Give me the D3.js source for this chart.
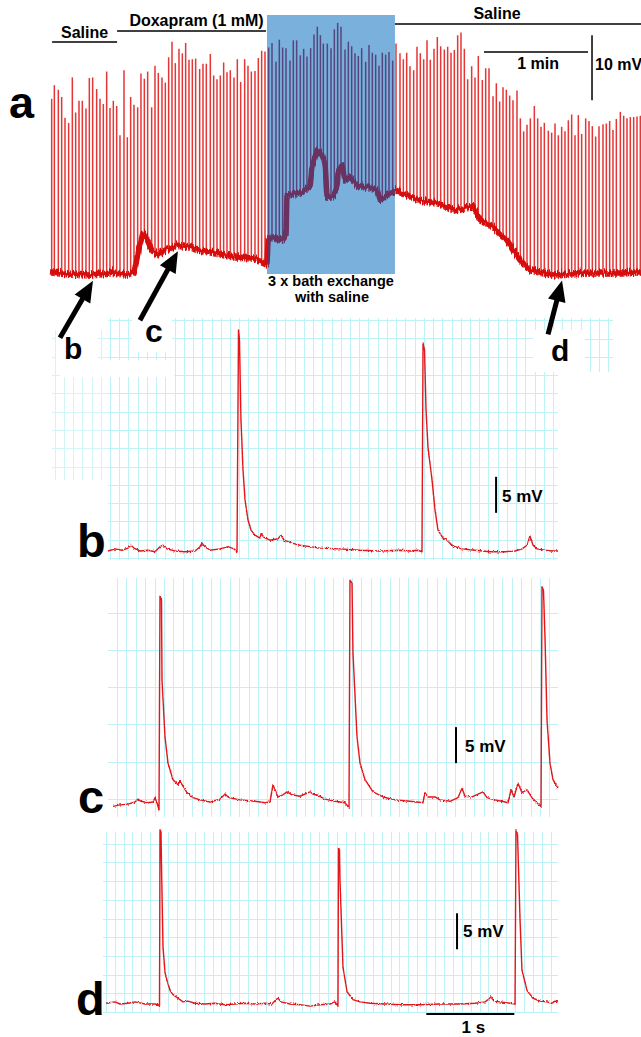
<!DOCTYPE html>
<html>
<head>
<meta charset="utf-8">
<script src="https://cdn.jsdelivr.net/npm/d3@7"></script>
<style>
  html, body { margin: 0; padding: 0; background: #fff; }
  svg { display: block; }
  text { font-family: "Liberation Sans", Arial, sans-serif; font-weight: bold; fill: #000; }
</style>
</head>
<body>
<svg id="fig" width="641" height="1037"></svg>
<script>
// ---------- Panel a: long recording (time in s, membrane potential in mV relative to rest) ----------
// Peak of each spike
const spikesA = [
  [0.96,27.1],[2.50,29.2],[4.80,28.5],[6.73,27.4],[8.65,24.2],[10.76,23.4],[12.88,30.4],[14.80,25.0],[16.73,26.8],[18.65,26.8],
  [20.76,25.6],[22.69,30.3],[24.61,30.4],[26.92,28.6],[28.84,27.1],[30.76,26.3],[32.69,31.3],[34.61,25.7],[36.53,26.8],[38.46,26.0],
  [40.38,21.5],[42.69,31.5],[44.61,21.2],[46.53,27.4],[48.45,26.2],[50.57,25.8],[52.49,31.0],[54.42,30.2],[56.34,31.3],[58.65,25.8],
  [60.57,32.2],[62.49,31.1],[64.61,30.4],[66.53,29.6],[68.45,33.5],[70.38,35.9],[72.30,32.6],[74.42,34.8],[76.34,34.1],[78.26,35.7],
  [80.19,33.1],[82.11,33.2],[84.03,33.3],[86.34,31.7],[88.26,32.5],[90.18,32.5],[92.49,34.0],[94.42,30.7],[96.34,30.1],[98.26,30.7],
  [100.18,32.7],[102.11,31.2],[104.03,31.5],[106.14,30.4],[108.07,33.2],[109.99,29.7],[112.30,33.2],[114.22,32.2],[116.15,31.3],[118.26,31.4],
  [120.18,33.4],[122.11,34.5],[124.03,34.4],[126.15,35.0],[128.07,35.7],[130.37,32.8],[132.30,36.2],[134.22,35.0],[136.15,34.9],[138.45,33.0],
  [140.37,36.1],[142.30,36.1],[144.41,33.8],[146.34,34.8],[148.26,33.6],[150.37,34.9],[152.30,37.0],[154.22,38.2],[156.00,36.9],[157.69,35.6],
  [160.00,35.6],[162.12,34.9],[164.04,37.8],[165.96,38.8],[167.88,38.2],[170.19,34.7],[172.12,35.9],[174.04,35.2],[175.96,34.1],[177.88,33.7],
  [179.81,34.9],[182.12,32.8],[184.04,35.4],[185.96,34.2],[187.88,33.9],[189.81,32.2],[191.73,34.2],[193.65,33.9],[195.58,34.3],[197.69,33.0],
  [199.61,35.6],[201.92,34.1],[203.85,33.2],[205.77,34.2],[207.69,32.1],[209.81,31.5],[211.73,35.1],[213.65,34.1],[215.58,33.2],[217.50,36.1],
  [219.42,33.1],[221.54,34.8],[223.46,36.6],[225.38,35.2],[227.50,34.7],[229.42,35.1],[231.35,34.2],[233.27,34.6],[235.19,36.9],[237.11,37.3],
  [239.04,34.8],[240.96,30.1],[243.27,32.1],[245.19,30.4],[247.11,33.7],[249.42,30.0],[251.35,31.8],[253.27,31.8],[255.58,27.5],[257.50,29.5],
  [259.42,26.7],[261.35,28.9],[263.27,28.5],[265.19,27.6],[267.11,26.9],[269.42,28.4],[271.35,24.1],[273.27,22.1],[275.19,23.1],[277.11,24.1],
  [279.42,26.0],[281.35,24.1],[283.27,22.8],[285.19,23.4],[287.50,22.2],[289.42,21.9],[291.35,23.3],[293.27,21.5],[295.19,22.8],[297.11,22.1],
  [299.04,23.8],[300.96,24.7],[302.88,21.5],[304.80,24.6],[306.73,21.7],[309.04,24.1],[310.96,23.7],[312.88,22.9],[314.80,21.3],[316.73,22.9],
  [319.04,23.2],[320.96,23.3],[322.88,23.7],[324.80,22.3],[326.73,24.0],[329.04,25.1],[330.96,24.5],[332.88,24.1],[334.80,24.3],[336.73,24.3],
  [338.65,24.4],[340.57,24.5]
];
// Inter-spike membrane potential
const restA = [
  [0,0.5],[11.5,0.15],[23.1,0],[34.6,0.3],[45.0,0.15],[48.5,0.5],[51.9,4.6],[53.7,6.6],[56.0,5.4],[58.8,3.8],
  [62.3,3.1],[66.3,3.8],[73.3,4.6],[80.8,4.3],[86.5,3.8],[95.2,3.4],[105.6,2.8],[117.1,2.6],[124.0,1.8],[125.2,1.7],
  [125.8,5.4],[126.9,5.8],[134.4,5.4],[136.2,6.5],[136.7,12.3],[144.2,12.6],[150.0,13.5],[151.1,16.5],[154.0,19.2],[156.9,18.5],
  [158.7,17.2],[159.8,12.0],[163.3,12.0],[165.6,13.5],[166.2,15.8],[168.5,16.9],[170.2,14.6],[173.1,15.1],[177.1,13.8],[182.9,13.5],
  [188.6,13.1],[190.4,11.5],[194.4,12.3],[199.0,13.1],[213.5,11.5],[223.3,11.1],[232.5,10.0],[244.0,10.5],[248.1,8.5],[255.6,7.4],
  [263.6,5.4],[271.1,2.3],[276.9,0.8],[290.2,0],[309.8,0.3],[328.8,0.3],[340.9,0.5]
];
// Solution periods (s)
const conditionsA = [
  { label: "Saline",          t0: 1.2,   t1: 38.7 },
  { label: "Doxapram (1 mM)", t0: 38.7,  t1: 124.6 },
  { label: "Saline",          t0: 199.0, t1: 341.0 }
];
const washWindow = [125.2, 199.0];          // bath exchange, s
const washLabel = ["3 x bath exchange", "with saline"];
const arrowTimes = [{ id: "b", t: 24.8 }, { id: "c", t: 73.8 }, { id: "d", t: 295.4 }];

// ---------- Panels b, c, d: expanded traces (time in s, mV relative to rest) ----------
const traceB = [
  [0,0],[0.080,0.3],[0.159,0.1],[0.227,0.4],[0.261,0.8],[0.295,0.4],[0.364,0],[0.455,0.1],[0.534,-0.1],[0.591,0.6],
  [0.625,0.8],[0.670,0.3],[0.761,0],[0.875,-0.1],[0.989,0],[1.045,0.6],[1.068,1.1],[1.102,0.6],[1.159,0.1],[1.273,0.3],
  [1.364,0.6],[1.432,0.3],[1.466,-0.1],[1.483,30.7],[1.494,29.3],[1.511,18.2],[1.534,11.3],[1.557,7.1],[1.591,4.3],[1.625,2.9],
  [1.670,2.2],[1.727,1.8],[1.739,2.4],[1.773,1.9],[1.841,1.5],[1.932,1.7],[1.966,2.2],[2.000,1.5],[2.091,1.1],[2.182,0.8],
  [2.295,0.6],[2.409,0.4],[2.636,0.3],[2.864,0.1],[3.091,0],[3.318,0.1],[3.432,0],[3.523,0.1],[3.568,-0.1],[3.580,28.9],
  [3.597,27.9],[3.614,19.6],[3.636,14.4],[3.682,9.9],[3.716,5.7],[3.750,2.9],[3.807,1.8],[3.852,1.5],[3.920,0.7],[4.023,0.3],
  [4.170,0.1],[4.341,-0.1],[4.511,-0.1],[4.625,0],[4.705,0.3],[4.761,0.8],[4.795,2.1],[4.830,0.8],[4.875,0.3],[4.966,0.1],
  [5.045,0],[5.114,0]
];
const traceC = [
  [0,-0.6],[0.080,-0.4],[0.170,-0.3],[0.250,0],[0.284,0.4],[0.318,0.1],[0.398,-0.1],[0.455,0],[0.477,0.6],[0.500,-0.1],
  [0.523,-1.1],[0.534,28.6],[0.551,28.1],[0.557,16.9],[0.591,9.0],[0.625,5.4],[0.682,3.1],[0.739,2.4],[0.761,2.9],[0.795,2.2],
  [0.841,1.3],[0.909,0.6],[0.989,0.3],[1.102,0],[1.216,0.4],[1.273,1.1],[1.318,0.6],[1.443,0.3],[1.614,0.1],[1.727,-0.1],
  [1.784,0],[1.818,2.4],[1.852,1.4],[1.875,0.7],[1.932,1.0],[1.977,1.4],[2.034,1.0],[2.125,0.8],[2.239,1.4],[2.284,1.0],
  [2.318,1.0],[2.409,0.4],[2.523,0.1],[2.636,-0.1],[2.682,-0.8],[2.693,30.8],[2.716,30.4],[2.727,20.7],[2.773,9.0],[2.807,5.4],
  [2.864,3.1],[2.955,1.4],[3.068,0.7],[3.205,0.3],[3.375,0.1],[3.523,-0.1],[3.545,1.3],[3.580,0.7],[3.659,0.7],[3.716,0.3],
  [3.830,0.1],[3.920,0.6],[3.966,1.9],[4.000,0.8],[4.080,0.7],[4.205,1.4],[4.250,0.6],[4.341,0.3],[4.455,0],[4.489,-0.1],
  [4.523,1.7],[4.557,0.7],[4.602,2.6],[4.648,1.3],[4.705,1.7],[4.761,0.6],[4.841,-0.4],[4.864,-0.6],[4.875,29.9],[4.892,29.4],
  [4.909,22.9],[4.932,11.4],[4.966,5.4],[5.000,3.1],[5.057,1.9]
];
const traceD = [
  [0,0.1],[0.102,0.3],[0.159,0],[0.250,0.1],[0.330,0.3],[0.443,0],[0.557,0],[0.591,-0.1],[0.608,-0.3],[0.614,24.2],
  [0.625,23.9],[0.631,19.0],[0.648,7.9],[0.670,4.4],[0.693,3.3],[0.727,1.9],[0.761,1.3],[0.818,0.8],[0.875,0.3],[0.932,0.4],
  [1.011,0.1],[1.125,0],[1.239,0.1],[1.352,-0.1],[1.466,0],[1.580,0.1],[1.693,0],[1.807,0.1],[1.886,0],[1.932,0.6],
  [1.955,0.8],[1.989,0.3],[2.091,0],[2.205,-0.1],[2.318,-0.3],[2.432,-0.1],[2.545,0],[2.602,0.3],[2.636,-0.3],[2.642,21.7],
  [2.653,21.4],[2.659,17.2],[2.693,5.1],[2.739,1.7],[2.807,0.6],[2.886,0.3],[3.000,0.1],[3.170,0],[3.341,-0.1],[3.568,-0.1],
  [3.795,0],[4.023,0],[4.193,0.1],[4.307,0.3],[4.352,0.7],[4.375,1.0],[4.409,0.4],[4.477,0.3],[4.591,0.1],[4.648,0],
  [4.659,24.2],[4.676,23.6],[4.705,11.7],[4.727,4.7],[4.784,1.9],[4.852,0.8],[4.932,0.4],[5.011,0.3],[5.068,0.1],[5.102,0.4],
  [5.136,0.3]
];
// Scale bars
const scaleA = { mV: 10, mVFrom: 26.9, mVAt: 312.7, sec: 60, secFrom: 250.4 };
const scaleBarsSmall = [
  { panel: "b", mV: 5, t: 4.41,  from: 5.3 },
  { panel: "c", mV: 5, t: 3.898, from: 5.4 },
  { panel: "d", mV: 5, t: 3.989, from: 7.6 }
];
const timeBarD = { sec: 1, from: 3.64 };

// ---------- drawing ----------
const svg = d3.select("#fig");
const RED = "#e3161c";
const GRID = "#bdf3f6";

const defs = svg.append("defs");
// recording noise: vertical-only jitter of the drawn trace
function jitterFilter(id, freq, scale) {
  const f = defs.append("filter").attr("id", id).attr("filterUnits", "userSpaceOnUse")
    .attr("x", 0).attr("y", 0).attr("width", 641).attr("height", 1037);
  f.append("feTurbulence").attr("type", "fractalNoise").attr("baseFrequency", freq)
    .attr("numOctaves", 2).attr("seed", 7).attr("result", "noise");
  f.append("feColorMatrix").attr("in", "noise").attr("type", "matrix")
    .attr("values", "0 0 0 0 0.5  0 1 0 0 0  0 0 0 0 0  0 0 0 0 1").attr("result", "vOnly");
  f.append("feDisplacementMap").attr("in", "SourceGraphic").attr("in2", "vOnly")
    .attr("scale", scale).attr("xChannelSelector", "R").attr("yChannelSelector", "G");
}
jitterFilter("noiseA", "0.9 0.05", 9);
jitterFilter("noiseS", "0.6 0.6", 3.2);

// Panel a scales: 1 min = 104 px, 10 mV = 65 px
const xA = d3.scaleLinear().domain([0, 60]).range([50, 154]);
const yA = d3.scaleLinear().domain([0, 10]).range([275, 210]);
const restAt = d3.scaleLinear().domain(restA.map(d => d[0])).range(restA.map(d => d[1])).clamp(true);

// Panel b-d scales: 1 s = 88 px, 5 mV = 36 px
const panels = {
  b: { data: traceB, x: d3.scaleLinear().domain([0, 1]).range([108, 196]), y: d3.scaleLinear().domain([0, 5]).range([551, 515]) },
  c: { data: traceC, x: d3.scaleLinear().domain([0, 1]).range([113, 201]), y: d3.scaleLinear().domain([0, 5]).range([802, 766]) },
  d: { data: traceD, x: d3.scaleLinear().domain([0, 1]).range([106, 194]), y: d3.scaleLinear().domain([0, 5]).range([1004, 968]) }
};

// chart-paper grids
function grid(g, x1, x2, y1, y2, vStart, vStep, hStart, hStep, op) {
  const gg = g.append("g").attr("stroke", GRID).attr("stroke-width", 1).attr("opacity", op || 1);
  gg.selectAll(null).data(d3.range(vStart, x2 + 0.1, vStep)).join("line")
    .attr("x1", d => Math.round(d) + 0.5).attr("x2", d => Math.round(d) + 0.5).attr("y1", y1).attr("y2", y2);
  gg.selectAll(null).data(d3.range(hStart, y1 - 0.1, -hStep)).join("line")
    .attr("y1", d => Math.round(d) + 0.5).attr("y2", d => Math.round(d) + 0.5).attr("x1", x1).attr("x2", x2);
}
const gGrid = svg.append("g");
grid(gGrid, 108, 558, 318, 560, 110, 9.23, 558, 18.3);
grid(gGrid, 558, 613, 318, 372, 119 + 9.23 * 48, 9.23, 356.8, 18.3);
grid(gGrid, 52, 108, 330, 480, 54.6, 9.23, 466.5, 18.3, 0.7);
grid(gGrid, 108, 558, 578, 817, 117, 9.4, 799, 37.3);
grid(gGrid, 103, 558, 832, 1012, 105.7, 8.9, 1012, 18.7);

// white patches round the arrow letters
svg.append("g").attr("fill", "#fff").selectAll("rect")
  .data([[56, 330, 42, 40], [60, 360, 114, 17], [132, 318, 40, 34], [533, 330, 52, 42]])
  .join("rect").attr("x", d => d[0]).attr("y", d => d[1]).attr("width", d => d[2]).attr("height", d => d[3]);

// ----- panel a -----
const bx0 = xA(washWindow[0]), bx1 = xA(washWindow[1]);
defs.append("clipPath").attr("id", "inWash").append("rect")
  .attr("x", bx0).attr("y", 0).attr("width", bx1 - bx0).attr("height", 300);
const outClip = defs.append("clipPath").attr("id", "outWash");
outClip.append("rect").attr("x", 0).attr("y", 0).attr("width", bx0).attr("height", 300);
outClip.append("rect").attr("x", bx1).attr("y", 0).attr("width", 700 - bx1).attr("height", 300);

svg.append("rect").attr("x", bx0).attr("y", 15).attr("width", bx1 - bx0).attr("height", 259)
  .attr("fill", "#79b1dc");

const restLine = d3.line().x(d => xA(d[0])).y(d => yA(d[1]));
function drawA(clip, spikeCol, restCol) {
  const g = svg.append("g").attr("clip-path", `url(#${clip})`);
  g.append("g").selectAll("line").data(spikesA).join("line")
    .attr("x1", d => xA(d[0])).attr("x2", d => xA(d[0]))
    .attr("y1", d => yA(restAt(d[0])) + 4).attr("y2", d => yA(d[1]))
    .attr("stroke", spikeCol).attr("stroke-width", 1.5);
  g.append("g").attr("filter", "url(#noiseA)")
    .append("path").datum(restA).attr("d", restLine)
    .attr("fill", "none").attr("stroke", restCol).attr("stroke-width", 5.5).attr("stroke-linejoin", "round");
}
drawA("outWash", "#e53535", "#d60a0a");
drawA("inWash", "#56467f", "#6b3361");

// condition bars and labels
const condLayout = [{ y: 42, ty: 38 }, { y: 31, ty: 26 }, { y: 24, ty: 19 }];
conditionsA.forEach((c, i) => {
  const L = condLayout[i];
  svg.append("line").attr("x1", xA(c.t0)).attr("x2", xA(c.t1)).attr("y1", L.y).attr("y2", L.y)
    .attr("stroke", "#000").attr("stroke-width", 1.5);
  const tx = i === 2 ? 497 : (xA(c.t0) + xA(c.t1)) / 2 + (i === 1 ? 5 : 0);
  svg.append("text").attr("x", tx).attr("y", L.ty).attr("text-anchor", "middle")
    .attr("font-size", 16).text(c.label);
});

// wash label
svg.append("text").attr("x", (bx0 + bx1) / 2).attr("y", 286).attr("text-anchor", "middle")
  .attr("font-size", 14.5).text(washLabel[0]);
svg.append("text").attr("x", (bx0 + bx1) / 2 + 1).attr("y", 302).attr("text-anchor", "middle")
  .attr("font-size", 14.5).text(washLabel[1]);

// scale bars of panel a
svg.append("line").attr("x1", xA(scaleA.secFrom)).attr("x2", xA(scaleA.secFrom + scaleA.sec))
  .attr("y1", 52).attr("y2", 52).attr("stroke", "#000").attr("stroke-width", 1.5);
svg.append("text").attr("x", (xA(scaleA.secFrom) + xA(scaleA.secFrom + scaleA.sec)) / 2 + 2).attr("y", 69)
  .attr("text-anchor", "middle").attr("font-size", 16).text("1 min");
svg.append("line").attr("x1", xA(scaleA.mVAt)).attr("x2", xA(scaleA.mVAt))
  .attr("y1", yA(scaleA.mVFrom)).attr("y2", yA(scaleA.mVFrom + scaleA.mV))
  .attr("stroke", "#000").attr("stroke-width", 1.5);
svg.append("text").attr("x", xA(scaleA.mVAt) + 3).attr("y", 70).attr("font-size", 16).text("10 mV");

// arrows pointing at the sampled epochs
const arrowTail = { b: [-33, 57], c: [-38, 69], d: [-14, 54] };
arrowTimes.forEach(a => {
  const tip = [xA(a.t), yA(restAt(a.t)) + 6];
  const tail = [tip[0] + arrowTail[a.id][0], tip[1] + arrowTail[a.id][1]];
  const dx = tail[0] - tip[0], dy = tail[1] - tip[1], len = Math.hypot(dx, dy);
  const ux = dx / len, uy = dy / len, hl = 21, hw = 9;
  const base = [tip[0] + ux * hl, tip[1] + uy * hl];
  svg.append("line").attr("x1", tail[0]).attr("y1", tail[1]).attr("x2", base[0] - ux * 2).attr("y2", base[1] - uy * 2)
    .attr("stroke", "#000").attr("stroke-width", 5);
  svg.append("path").attr("fill", "#000")
    .attr("d", `M${tip[0]},${tip[1]}L${base[0] - uy * hw},${base[1] + ux * hw}L${base[0] + uy * hw},${base[1] - ux * hw}Z`);
});
svg.append("text").attr("x", 64).attr("y", 359).attr("font-size", 30).text("b");
svg.append("text").attr("x", 145).attr("y", 342).attr("font-size", 32).text("c");
svg.append("text").attr("x", 551).attr("y", 361).attr("font-size", 30).text("d");

// panel letters
svg.append("text").attr("x", 9).attr("y", 118).attr("font-size", 45).text("a");
[["b", 77, 557], ["c", 78, 813], ["d", 76, 1015]].forEach(p =>
  svg.append("text").attr("x", p[1]).attr("y", p[2]).attr("font-size", 47).text(p[0]));

// ----- panels b, c, d -----
Object.entries(panels).forEach(([k, p]) => {
  const line = d3.line().x(d => p.x(d[0])).y(d => p.y(d[1]));
  svg.append("g").attr("filter", "url(#noiseS)")
    .append("path").datum(p.data).attr("d", line)
    .attr("fill", "none").attr("stroke", RED).attr("stroke-width", 1.4).attr("stroke-linejoin", "round");
});
const mvText = { b: [502, 502], c: [465, 752], d: [463, 937] };
scaleBarsSmall.forEach(s => {
  const p = panels[s.panel], x = p.x(s.t);
  svg.append("line").attr("x1", x).attr("x2", x).attr("y1", p.y(s.from)).attr("y2", p.y(s.from + s.mV))
    .attr("stroke", "#000").attr("stroke-width", 2);
  svg.append("text").attr("x", mvText[s.panel][0]).attr("y", mvText[s.panel][1]).attr("font-size", 17).text("5 mV");
});
{
  const p = panels.d;
  svg.append("line").attr("x1", p.x(timeBarD.from)).attr("x2", p.x(timeBarD.from + timeBarD.sec))
    .attr("y1", 1014).attr("y2", 1014).attr("stroke", "#000").attr("stroke-width", 2);
  svg.append("text").attr("x", (p.x(timeBarD.from) + p.x(timeBarD.from + timeBarD.sec)) / 2 + 3).attr("y", 1033)
    .attr("text-anchor", "middle").attr("font-size", 17).text("1 s");
}
</script>
</body>
</html>
